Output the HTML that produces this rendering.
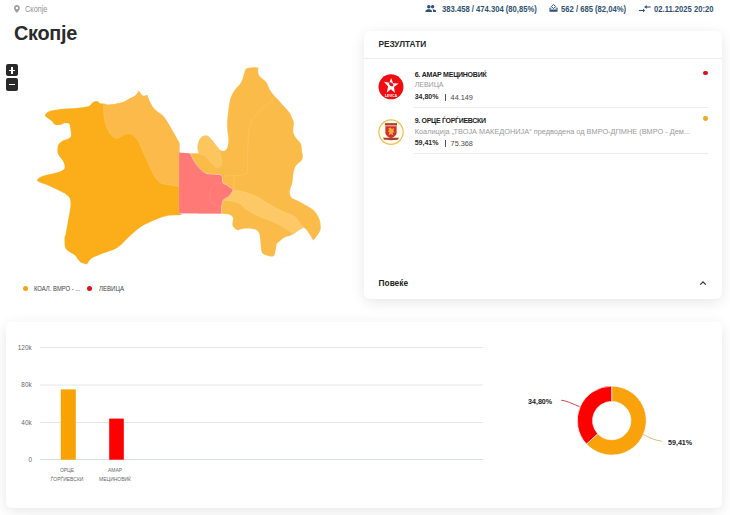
<!DOCTYPE html>
<html><head><meta charset="utf-8">
<style>
*{margin:0;padding:0;box-sizing:border-box}
html,body{width:730px;height:515px;overflow:hidden;background:#fff;font-family:"Liberation Sans",sans-serif}
.a{position:absolute;white-space:nowrap;line-height:normal}
.b{font-weight:700}
.card{position:absolute;background:#fff;border-radius:6px;box-shadow:0 3px 14px rgba(0,0,0,0.1)}
.stat{color:#30516f;font-size:8.5px;font-weight:700;top:4.4px;transform:scaleX(0.9);transform-origin:0 0}
</style></head><body>

<!-- breadcrumb -->
<svg class="a" style="left:14.3px;top:5.1px" width="5.8" height="7.8" viewBox="0 0 24 32"><path d="M12 0C5.4 0 0 5.4 0 12c0 9 12 20 12 20s12-11 12-20C24 5.4 18.6 0 12 0zm0 17a5 5 0 1 1 0-10 5 5 0 0 1 0 10z" fill="#9e9e9e"/></svg>
<div class="a" style="left:25.3px;top:5.3px;font-size:8.2px;color:#939393;transform:scaleX(0.9);transform-origin:0 0">Скопје</div>
<div class="a b" style="left:14.1px;top:21.1px;font-size:21px;color:#2b2b2b;letter-spacing:-0.3px;transform:scaleX(0.945);transform-origin:0 0">Скопје</div>

<!-- stats -->
<svg class="a" style="left:424px;top:4px" width="13" height="9" viewBox="0 0 13 9"><circle cx="4.8" cy="2.8" r="1.75" fill="#2d5177"/><circle cx="8.6" cy="2.7" r="1.7" fill="#2d5177"/><path d="M1.5 7.9V6.9C1.5 5.9 3.5 5.3 4.7 5.3S7.9 5.9 7.9 6.9V7.9Z" fill="#2d5177"/><path d="M9.1 7.9V6.8C9.1 6.2 8.9 5.8 8.6 5.5 10.2 5.4 12 6 12 6.8V7.9Z" fill="#2d5177"/></svg>
<div class="a stat" style="left:441.9px">383.458 / 474.304 (80,85%)</div>
<svg class="a" style="left:548px;top:2px" width="11" height="11" viewBox="0 0 11 11"><path d="M5.5 2.4L7.6 4.5 5.5 6.6 3.4 4.5Z" fill="none" stroke="#2d5177" stroke-width="1"/><path d="M1.5 9.8V6.1H2.3V7.6H8.7V6.1H9.5V9.8Z" fill="#2d5177"/><path d="M1.5 6.1H3.6M7.4 6.1H9.5" stroke="#2d5177" stroke-width="0.7"/></svg>
<div class="a stat" style="left:561.4px">562 / 685 (82,04%)</div>
<svg class="a" style="left:636px;top:2px" width="16" height="12" viewBox="0 0 16 12"><path d="M2.9 8.5H7.6" stroke="#2d5177" stroke-width="1.1"/><path d="M7 6.6L9.1 8.5 7 10.4Z" fill="#2d5177"/><path d="M8.6 5H14.6" stroke="#2d5177" stroke-width="1.1"/><path d="M10.8 3.1L8.6 5 10.8 6.9Z" fill="#2d5177"/></svg>
<div class="a stat" style="left:654px">02.11.2025 20:20</div>

<!-- zoom buttons -->
<div class="a" style="left:6px;top:64px;width:12.2px;height:12.4px;background:#2a2a2a;border-radius:2px"></div>
<div class="a" style="left:6px;top:78.2px;width:12.2px;height:12.4px;background:#2a2a2a;border-radius:2px"></div>
<div class="a" style="left:8.9px;top:69.8px;width:6.2px;height:1.2px;background:#fff"></div>
<div class="a" style="left:11.4px;top:67.4px;width:1.2px;height:6.2px;background:#fff"></div>
<div class="a" style="left:9.3px;top:83.8px;width:5.4px;height:1.2px;background:#fff"></div>

<svg width="730" height="300" style="position:absolute;left:0;top:0" viewBox="0 0 730 300">
<path d="M44.90,115.40 C45.08,114.32 46.23,112.53 48.60,111.50 C50.97,110.47 54.43,109.78 59.10,109.20 C63.77,108.62 71.75,108.48 76.60,108.00 C81.45,107.52 85.48,107.27 88.20,106.30 C90.92,105.33 91.35,103.07 92.90,102.20 C94.45,101.33 97.50,101.10 97.50,101.10 C97.50,101.10 98.83,102.78 100.00,103.20 C101.17,103.62 103.05,103.35 104.50,103.60 C105.95,103.85 105.82,104.88 108.70,104.70 C111.58,104.52 118.40,103.48 121.80,102.50 C125.20,101.52 126.78,100.02 129.10,98.80 C131.42,97.58 134.12,96.58 135.70,95.20 C137.28,93.82 138.60,90.50 138.60,90.50 C138.60,90.50 140.65,93.60 141.50,94.50 C142.35,95.40 142.73,95.83 143.70,95.90 C144.67,95.97 147.30,94.90 147.30,94.90 C147.30,94.90 148.87,100.02 150.20,102.50 C151.53,104.98 152.98,107.38 155.30,109.80 C157.62,112.22 161.42,113.85 164.10,117.00 C166.78,120.15 169.22,125.05 171.40,128.70 C173.58,132.35 175.87,136.48 177.20,138.90 C178.53,141.32 179.03,141.02 179.40,143.20 C179.77,145.38 179.40,152.00 179.40,152.00 C179.40,152.00 179.40,185.00 179.40,185.00 C179.40,185.00 179.40,213.50 179.40,213.50 C179.40,213.50 183.18,214.60 181.10,215.00 C179.02,215.40 171.35,215.02 166.90,215.90 C162.45,216.78 158.87,218.37 154.40,220.30 C149.93,222.23 144.55,224.52 140.10,227.50 C135.65,230.48 131.55,234.78 127.70,238.20 C123.85,241.62 121.45,245.33 117.00,248.00 C112.55,250.67 104.78,252.68 101.00,254.20 C97.22,255.72 95.98,256.28 94.30,257.10 C92.62,257.92 91.80,258.37 90.90,259.10 C90.00,259.83 89.55,260.62 88.90,261.50 C88.25,262.38 87.00,264.40 87.00,264.40 C87.00,264.40 82.32,263.47 80.70,262.50 C79.08,261.53 78.27,259.82 77.30,258.60 C76.33,257.38 76.12,256.25 74.90,255.20 C73.68,254.15 71.60,253.50 70.00,252.30 C68.40,251.10 66.22,250.35 65.30,248.00 C64.38,245.65 64.43,240.63 64.50,238.20 C64.57,235.77 65.12,236.33 65.70,233.40 C66.28,230.47 67.22,225.07 68.00,220.60 C68.78,216.13 70.10,210.28 70.40,206.60 C70.70,202.92 70.48,200.43 69.80,198.50 C69.12,196.57 67.12,195.82 66.30,195.00 C65.48,194.18 66.68,194.62 64.90,193.60 C63.12,192.58 58.90,190.45 55.60,188.90 C52.30,187.35 48.10,185.57 45.10,184.30 C42.10,183.03 38.75,182.28 37.60,181.30 C36.45,180.32 37.13,179.37 38.20,178.40 C39.27,177.43 40.90,176.47 44.00,175.50 C47.10,174.53 53.40,173.77 56.80,172.60 C60.20,171.43 63.33,170.35 64.40,168.50 C65.47,166.65 64.18,163.73 63.20,161.50 C62.22,159.27 59.47,157.13 58.50,155.10 C57.53,153.07 57.30,151.23 57.40,149.30 C57.50,147.37 58.03,145.05 59.10,143.50 C60.17,141.95 62.83,140.58 63.80,140.00 C64.77,139.42 63.73,140.57 64.90,140.00 C66.07,139.43 69.92,138.53 70.80,136.60 C71.68,134.67 70.50,130.53 70.20,128.40 C69.90,126.27 69.88,124.67 69.00,123.80 C68.12,122.93 66.35,123.02 64.90,123.20 C63.45,123.38 62.03,124.70 60.30,124.90 C58.57,125.10 55.87,124.98 54.50,124.40 C53.13,123.82 53.27,122.47 52.10,121.40 C50.93,120.33 48.70,119.00 47.50,118.00 C46.30,117.00 44.72,116.48 44.90,115.40Z" fill="#fbae19" stroke="rgba(255,255,255,0.3)" stroke-width="0.5"/>
<path d="M103.60,103.90 C103.60,103.90 105.67,104.93 108.70,104.70 C111.73,104.47 118.40,103.48 121.80,102.50 C125.20,101.52 126.78,100.02 129.10,98.80 C131.42,97.58 134.12,96.58 135.70,95.20 C137.28,93.82 138.60,90.50 138.60,90.50 C138.60,90.50 140.65,93.60 141.50,94.50 C142.35,95.40 142.73,95.83 143.70,95.90 C144.67,95.97 147.30,94.90 147.30,94.90 C147.30,94.90 148.87,100.02 150.20,102.50 C151.53,104.98 152.98,107.38 155.30,109.80 C157.62,112.22 161.42,113.85 164.10,117.00 C166.78,120.15 169.22,125.05 171.40,128.70 C173.58,132.35 175.87,136.48 177.20,138.90 C178.53,141.32 179.03,141.02 179.40,143.20 C179.77,145.38 179.40,152.00 179.40,152.00 C179.40,152.00 179.40,187.00 179.40,187.00 C179.40,187.00 177.52,186.22 175.40,185.80 C173.28,185.38 169.32,185.08 166.70,184.50 C164.08,183.92 161.88,183.97 159.70,182.30 C157.52,180.63 155.63,177.98 153.60,174.50 C151.57,171.02 149.40,165.48 147.50,161.40 C145.60,157.32 143.80,153.52 142.20,150.00 C140.60,146.48 139.83,143.00 137.90,140.30 C135.97,137.60 132.78,134.77 130.60,133.80 C128.42,132.83 127.23,133.77 124.80,134.50 C122.37,135.23 118.68,138.68 116.00,138.20 C113.32,137.72 110.63,134.88 108.70,131.60 C106.77,128.32 105.25,123.12 104.40,118.50 C103.55,113.88 103.60,103.90 103.60,103.90Z" fill="#fbba49" stroke="rgba(255,255,255,0.3)" stroke-width="0.5"/>
<path d="M246.40,68.60 C247.75,67.65 250.25,67.37 252.30,67.20 C254.35,67.03 258.70,67.60 258.70,67.60 C258.70,67.60 257.92,69.75 258.10,71.20 C258.28,72.65 258.45,74.48 259.80,76.30 C261.15,78.12 264.35,79.58 266.20,82.10 C268.05,84.62 268.57,88.10 270.90,91.40 C273.23,94.70 277.10,98.40 280.20,101.90 C283.30,105.40 287.42,109.50 289.50,112.40 C291.58,115.30 291.97,117.57 292.70,119.30 C293.43,121.03 293.80,120.67 293.90,122.80 C294.00,124.93 292.92,129.57 293.30,132.10 C293.68,134.63 294.93,136.05 296.20,138.00 C297.47,139.95 299.92,141.48 300.90,143.80 C301.88,146.12 301.78,150.03 302.10,151.90 C302.42,153.77 302.83,153.62 302.80,155.00 C302.77,156.38 303.00,158.45 301.90,160.20 C300.80,161.95 297.58,163.45 296.20,165.50 C294.82,167.55 294.25,169.58 293.60,172.50 C292.95,175.42 292.95,179.80 292.30,183.00 C291.65,186.20 289.78,189.23 289.70,191.70 C289.62,194.17 290.72,196.42 291.80,197.80 C292.88,199.18 294.18,198.97 296.20,200.00 C298.22,201.03 301.07,202.37 303.90,204.00 C306.73,205.63 310.68,207.48 313.20,209.80 C315.72,212.12 317.73,214.98 319.00,217.90 C320.27,220.82 320.80,224.77 320.80,227.30 C320.80,229.83 320.27,230.87 319.00,233.10 C317.73,235.33 313.20,240.70 313.20,240.70 C313.20,240.70 310.15,235.25 308.60,233.10 C307.05,230.95 305.65,228.18 303.90,227.80 C302.15,227.42 300.03,229.63 298.10,230.80 C296.17,231.97 294.63,233.65 292.30,234.80 C289.97,235.95 286.43,236.43 284.10,237.70 C281.77,238.97 279.53,241.32 278.30,242.40 C277.07,243.48 277.18,242.73 276.70,244.20 C276.22,245.67 275.98,249.17 275.40,251.20 C274.82,253.23 275.02,255.82 273.20,256.40 C271.38,256.98 266.47,255.57 264.50,254.70 C262.53,253.83 262.07,253.23 261.40,251.20 C260.73,249.17 260.87,245.42 260.50,242.50 C260.13,239.58 260.00,235.82 259.20,233.70 C258.40,231.58 257.73,230.67 255.70,229.80 C253.67,228.93 249.62,228.57 247.00,228.50 C244.38,228.43 241.65,229.13 240.00,229.40 C238.35,229.67 238.35,230.77 237.10,230.10 C235.85,229.43 233.18,227.35 232.50,225.40 C231.82,223.45 233.40,220.15 233.00,218.40 C232.60,216.65 232.03,215.67 230.10,214.90 C228.17,214.13 221.40,213.80 221.40,213.80 C221.40,213.80 221.30,208.82 221.60,206.50 C221.90,204.18 222.00,201.62 223.20,199.90 C224.40,198.18 227.20,197.90 228.80,196.20 C230.40,194.50 232.65,191.15 232.80,189.70 C232.95,188.25 230.80,188.32 229.70,187.50 C228.60,186.68 227.38,185.65 226.20,184.80 C225.02,183.95 223.40,183.97 222.60,182.40 C221.80,180.83 222.75,176.75 221.40,175.40 C220.05,174.05 217.22,174.68 214.50,174.30 C211.78,173.92 208.22,174.85 205.10,173.10 C201.98,171.35 198.32,167.10 195.80,163.80 C193.28,160.50 190.00,153.30 190.00,153.30 C190.00,153.30 198.70,153.30 198.70,153.30 C198.70,153.30 197.68,150.35 197.60,148.60 C197.52,146.85 197.53,144.73 198.20,142.80 C198.87,140.87 200.05,138.17 201.60,137.00 C203.15,135.83 205.55,135.03 207.50,135.80 C209.45,136.57 211.37,139.37 213.30,141.60 C215.23,143.83 219.10,149.20 219.10,149.20 C219.10,149.20 222.43,151.28 223.80,151.00 C225.17,150.72 226.53,149.45 227.30,147.50 C228.07,145.55 228.40,142.22 228.40,139.30 C228.40,136.38 227.50,133.22 227.30,130.00 C227.10,126.78 227.02,123.32 227.20,120.00 C227.38,116.68 227.92,113.50 228.40,110.10 C228.88,106.70 229.23,102.72 230.10,99.60 C230.97,96.48 232.07,93.87 233.60,91.40 C235.13,88.93 237.88,86.72 239.30,84.80 C240.72,82.88 241.28,81.88 242.10,79.90 C242.92,77.92 243.48,74.78 244.20,72.90 C244.92,71.02 245.05,69.55 246.40,68.60Z" fill="#fbbb49" stroke="rgba(255,255,255,0.3)" stroke-width="0.5"/>
<path d="M198.20,142.80 C198.87,140.87 200.05,138.17 201.60,137.00 C203.15,135.83 205.55,135.03 207.50,135.80 C209.45,136.57 211.37,139.37 213.30,141.60 C215.23,143.83 219.10,149.20 219.10,149.20 C219.10,149.20 221.78,160.78 221.40,163.80 C221.02,166.82 218.53,167.50 216.80,167.30 C215.07,167.10 212.95,164.55 211.00,162.60 C209.05,160.65 207.05,157.15 205.10,155.60 C203.15,154.05 200.55,154.47 199.30,153.30 C198.05,152.13 197.78,150.35 197.60,148.60 C197.42,146.85 197.53,144.73 198.20,142.80Z" fill="#fcc55e" stroke="rgba(255,255,255,0.3)" stroke-width="0.5"/>
<path d="M232.50,191.10 C232.50,191.10 236.72,190.23 240.60,191.10 C244.48,191.97 251.33,194.27 255.80,196.30 C260.27,198.33 263.07,200.85 267.40,203.30 C271.73,205.75 277.27,208.75 281.80,211.00 C286.33,213.25 291.12,214.08 294.60,216.80 C298.08,219.52 302.70,227.30 302.70,227.30 C302.70,227.30 304.67,227.22 303.90,227.80 C303.13,228.38 299.85,229.72 298.10,230.80 C296.35,231.88 293.40,234.30 293.40,234.30 C293.40,234.30 287.58,229.45 284.10,227.30 C280.62,225.15 276.25,223.07 272.50,221.40 C268.75,219.73 265.75,219.15 261.60,217.30 C257.45,215.45 251.48,212.73 247.60,210.30 C243.72,207.87 242.37,204.45 238.30,202.70 C234.23,200.95 224.95,200.67 223.20,199.80 C221.45,198.93 227.80,197.50 227.80,197.50 C227.80,197.50 232.50,191.10 232.50,191.10Z" fill="#fdc866" stroke="rgba(255,255,255,0.3)" stroke-width="0.5"/>
<path d="M178.90,152.40 C178.90,152.40 187.75,153.05 189.60,153.20 C191.45,153.35 190.00,153.30 190.00,153.30 C190.00,153.30 193.28,160.50 195.80,163.80 C198.32,167.10 201.98,171.35 205.10,173.10 C208.22,174.85 211.78,173.92 214.50,174.30 C217.22,174.68 220.05,174.05 221.40,175.40 C222.75,176.75 221.80,180.83 222.60,182.40 C223.40,183.97 225.02,183.95 226.20,184.80 C227.38,185.65 228.60,186.68 229.70,187.50 C230.80,188.32 232.95,188.25 232.80,189.70 C232.65,191.15 230.40,194.50 228.80,196.20 C227.20,197.90 224.40,198.18 223.20,199.90 C222.00,201.62 221.90,204.18 221.60,206.50 C221.30,208.82 221.40,213.80 221.40,213.80 C221.40,213.80 178.90,213.50 178.90,213.50 C178.90,213.50 178.90,152.40 178.90,152.40Z" fill="#ff7a76" stroke="rgba(255,255,255,0.3)" stroke-width="0.5"/>
<path d="M274.4,98.4 L260.1,110.0 L250.8,121.6 L248.5,133.3 L247.3,156.6 L247.6,173.1 L240.1,175.4 L223.8,176.0" fill="none" stroke="#fcc868" stroke-width="0.6"/><path d="M233.7,176.0 L234.3,190.0" fill="none" stroke="#fcc868" stroke-width="0.6"/><path d="M221.8,183.0 L215.7,183.1 L211.4,187.5 L209.6,196.2 L210.5,201.4 L215.7,204.9 L221.0,207.6" fill="none" stroke="#ff8f8a" stroke-width="0.6"/></svg>

<!-- legend -->
<div class="a" style="left:22.7px;top:286.2px;width:5px;height:5px;border-radius:50%;background:#f5a416"></div>
<div class="a" style="left:34.4px;top:284.8px;font-size:7px;color:#444;transform:scaleX(0.84);transform-origin:0 0">КОАЛ. ВМРО - ...</div>
<div class="a" style="left:87.3px;top:286.2px;width:5px;height:5px;border-radius:50%;background:#e3101a"></div>
<div class="a" style="left:98.8px;top:284.8px;font-size:7px;color:#444;transform:scaleX(0.87);transform-origin:0 0">ЛЕВИЦА</div>

<!-- results card -->
<div class="card" style="left:364px;top:31px;width:358px;height:268px"></div>
<div class="a b" style="left:378.4px;top:38.9px;font-size:8.3px;color:#2a2a2a">РЕЗУЛТАТИ</div>
<div class="a" style="left:364px;top:58px;width:358px;height:1px;background:#ececec"></div>

<!-- candidate 1 -->
<svg class="a" style="left:378px;top:73.5px" width="26" height="26" viewBox="0 0 26 26">
<circle cx="13" cy="12.8" r="12.5" fill="#f20c12"/>
<path d="M13.2,4.0 L15.1,9.2 L20.6,9.6 L16.0,13.0 L16.9,18.9 L13.0,15.3 L8.8,18.4 L10.1,12.4 L6.0,7.7 L11.3,8.7Z" fill="#fff"/>
<path d="M10.6 8.6L12.4 8.2 14.8 9.6 15.4 11.4 14.2 12.4 12.2 11.8 11.4 10.4Z" fill="#f20c12"/>
<text x="13" y="22.6" font-family="Liberation Sans" font-weight="700" font-size="3.4" fill="#fff" text-anchor="middle" textLength="12" lengthAdjust="spacingAndGlyphs">LEVICA</text>
</svg>
<div class="a b" style="left:414.7px;top:70.5px;font-size:7px;color:#222;letter-spacing:-0.24px">6. АМАР МЕЦИНОВИЌ</div>
<div class="a" style="left:414.7px;top:81px;font-size:7px;color:#9a9a9a">ЛЕВИЦА</div>
<div class="a b" style="left:414.7px;top:93.3px;font-size:7px;color:#2a2a2a">34,80%</div>
<div class="a" style="left:444.8px;top:93.9px;width:1.3px;height:6.8px;background:#555"></div>
<div class="a" style="left:450.6px;top:93.2px;font-size:7.3px;color:#4a4a4a">44.149</div>
<div class="a" style="left:703px;top:70.6px;width:4.8px;height:4.8px;border-radius:50%;background:#d7131b"></div>
<div class="a" style="left:414px;top:107px;width:294px;height:1px;background:#ececec"></div>

<!-- candidate 2 -->
<svg class="a" style="left:378px;top:119.2px" width="26" height="26" viewBox="0 0 26 26">
<circle cx="13" cy="13.1" r="12.2" fill="#fffbeb" stroke="#ecbf55" stroke-width="1.2"/>
<path d="M6.9 4.1H19V6H6.9Z" fill="#a3472e"/>
<path d="M6.9 6H19V7.3H6.9Z" fill="#e79a86"/>
<path d="M7.4 7.3H18.6V13.4C18.6 16.4 16 18.2 13 18.9 10 18.2 7.4 16.4 7.4 13.4Z" fill="#d3302d"/>
<path d="M10.2 9.4L12.6 8.5 13.9 9.9 16.2 9 15.4 11.5 16.5 13.2 14.6 13.4 15.3 16.6 13 15 10.6 16.4 11.4 13.2 9.7 12.2 11.3 11.3Z" fill="#f3ab3c"/>
<path d="M5.3 18.4C7 18.9 19 18.9 20.7 18.4L20.2 20.6C18 21.4 8 21.4 5.8 20.6Z" fill="#a8412f"/>
</svg>
<div class="a b" style="left:414.7px;top:116.5px;font-size:7px;color:#222;letter-spacing:-0.3px">9. ОРЦЕ ЃОРЃИЕВСКИ</div>
<div class="a" style="left:414.7px;top:127px;font-size:7.37px;color:#9a9a9a">Коалиција „ТВОЈА МАКЕДОНИЈА“ предводена од ВМРО-ДПМНЕ (ВМРО - Дем...</div>
<div class="a b" style="left:414.7px;top:139.3px;font-size:7px;color:#2a2a2a">59,41%</div>
<div class="a" style="left:444.8px;top:139.9px;width:1.3px;height:6.8px;background:#555"></div>
<div class="a" style="left:450.6px;top:139.2px;font-size:7.3px;color:#4a4a4a">75.368</div>
<div class="a" style="left:703px;top:116.4px;width:4.8px;height:4.8px;border-radius:50%;background:#f0a921"></div>
<div class="a" style="left:414px;top:153px;width:294px;height:1px;background:#ececec"></div>

<div class="a b" style="left:378.6px;top:278.2px;font-size:8.3px;color:#222">Повеќе</div>
<svg class="a" style="left:699px;top:280px" width="8" height="6" viewBox="0 0 8 6"><path d="M1.2 4.6L4 1.8l2.8 2.8" fill="none" stroke="#333" stroke-width="1.25"/></svg>

<!-- bottom card -->
<div class="card" style="left:6px;top:322px;width:716px;height:186px"></div>
<svg class="a" style="left:0;top:0" width="730" height="515">
<g stroke="#e6e6e6" stroke-width="1">
<line x1="40" y1="347.5" x2="483" y2="347.5"/>
<line x1="40" y1="385" x2="483" y2="385"/>
<line x1="40" y1="422.5" x2="483" y2="422.5"/>
</g>
<line x1="40" y1="459.5" x2="483" y2="459.5" stroke="#d9dde6" stroke-width="1"/>
<rect x="60.8" y="389.4" width="15" height="70.3" fill="#f8a204"/>
<rect x="109.2" y="418.6" width="14.6" height="41.1" fill="#ff0000"/>
<!-- donut -->
<path d="M611.7 386.1 A34.5 34.5 0 1 1 586.5 444.1 L597.7 433.7 A19.2 19.2 0 1 0 611.7 401.4 Z" fill="#f9a20b" stroke="#fff" stroke-width="0.7"/>
<path d="M586.5 444.1 A34.5 34.5 0 0 1 611.7 386.1 L611.7 401.4 A19.2 19.2 0 0 0 597.7 433.7 Z" fill="#ff0000" stroke="#fff" stroke-width="0.7"/>
<path d="M561.2 400.2 C566 400.6 572 403.4 579.6 406.7" fill="none" stroke="#b3141a" stroke-width="0.75"/>
<path d="M643.3 434.5 C649 437.6 655 440.4 661.8 441.2" fill="none" stroke="#d9a443" stroke-width="0.75"/>
</svg>
<div class="a" style="right:698.4px;top:343.5px;font-size:6.36px;color:#666">120k</div>
<div class="a" style="right:698.4px;top:381px;font-size:6.36px;color:#666">80k</div>
<div class="a" style="right:698.4px;top:418.5px;font-size:6.36px;color:#666">40k</div>
<div class="a" style="right:698px;top:456px;font-size:6.36px;color:#666">0</div>
<div class="a" style="left:40.5px;width:52px;text-align:center;top:466.3px;font-size:6px;color:#666;line-height:8.2px;transform:scaleX(0.83)">ОРЦЕ<br>ЃОРЃИЕВСКИ</div>
<div class="a" style="left:88.7px;width:52px;text-align:center;top:466.3px;font-size:6px;color:#666;line-height:8.2px;transform:scaleX(0.83)">АМАР<br>МЕЦИНОВИЌ</div>
<div class="a b" style="left:528.4px;top:396.8px;font-size:7.5px;color:#222;transform:scaleX(0.95);transform-origin:0 0">34,80%</div>
<div class="a b" style="left:667.9px;top:438.0px;font-size:7.5px;color:#222;transform:scaleX(0.95);transform-origin:0 0">59,41%</div>

</body></html>
